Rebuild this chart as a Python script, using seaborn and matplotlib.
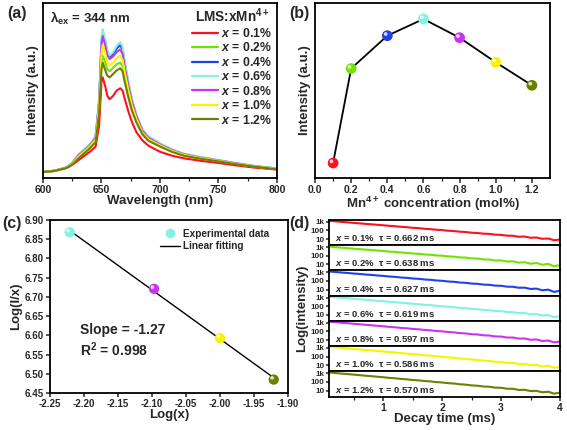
import numpy as np
import pandas as pd
import matplotlib
matplotlib.use('Agg')
import matplotlib.pyplot as plt
import matplotlib.transforms as mtransforms
from matplotlib.ticker import MultipleLocator, FixedLocator, FixedFormatter, NullLocator
import seaborn as sns

# ---------------- data ----------------
labels_x = ['0.1%', '0.2%', '0.4%', '0.6%', '0.8%', '1.0%', '1.2%']
conc = [0.1, 0.2, 0.4, 0.6, 0.8, 1.0, 1.2]
colors = ['#ff1020', '#70e400', '#2040e8', '#80f4e0', '#cc33ee', '#f8f400', '#6e8000']

# (a) emission spectra
wavelength = [600, 610, 620, 625, 630, 635, 640, 645, 648, 650, 651, 653, 655, 657, 660, 663,
              666, 668, 670, 673, 676, 680, 685, 690, 700, 710, 720, 735, 750, 765, 780, 800]
spec_01 = [3.4, 4.0, 5.7, 7.5, 10, 12.5, 15, 18, 30, 55, 57.5, 53, 47, 45, 47, 50,
           51.3, 50, 45, 38, 32, 26, 21.5, 18.5, 15, 12.8, 11.3, 9.8, 8.6, 7.2, 6, 4.8]
spec_02 = [3.4, 4.1, 5.8, 7.8, 11.5, 14.5, 17.5, 21, 39, 66, 70, 66.5, 62, 61, 63, 65,
           66, 64, 57, 48, 40, 32.5, 25.5, 21.8, 18.3, 15.3, 13, 11.2, 9.6, 8, 6.6, 5.1]
spec_04 = [3.4, 4.2, 6, 8.5, 13, 16, 19, 23.5, 44, 78, 83, 78.5, 72, 69, 71, 74,
           76, 73.5, 65, 54, 44.5, 35.5, 27.5, 23.5, 19.5, 16.3, 13.8, 11.8, 10.1, 8.4, 6.9, 5.4]
spec_06 = [3.4, 4.2, 6, 8.5, 13, 16, 19, 24, 45, 80, 85, 80, 73, 70, 72, 75.5,
           77.7, 75, 66, 55, 45, 36, 28, 24, 19.8, 16.5, 14, 12, 10.3, 8.5, 7, 5.5]
spec_08 = [3.4, 4.2, 6, 8.3, 12.5, 15.5, 18.5, 23, 43, 76, 81, 76.5, 70, 68, 69.5, 72,
           73.5, 71, 63, 52.5, 43.5, 35, 27, 23, 19.2, 16, 13.6, 11.6, 10, 8.3, 6.8, 5.3]
spec_10 = [3.4, 4.2, 5.9, 8, 12, 15, 18, 22, 41, 71, 76, 72, 66, 64.5, 66, 68.5,
           70, 67.5, 60, 50, 41.5, 33.5, 26, 22.2, 18.7, 15.6, 13.3, 11.4, 9.8, 8.1, 6.7, 5.2]
spec_12 = [3.4, 4.1, 5.7, 7.6, 11, 14, 17, 20.5, 37, 62, 66, 62, 58.5, 57.5, 59.5, 61.5,
           62.7, 61, 54.5, 46, 38.5, 31.5, 25, 21.3, 18, 15, 12.8, 11, 9.5, 7.9, 6.5, 5]
spectra = [spec_01, spec_02, spec_04, spec_06, spec_08, spec_10, spec_12]

# (b) integrated intensity vs Mn4+ concentration
intensity_b = [15, 109.5, 142.3, 159, 140.3, 115.7, 92.7]

# (c) log(I/x) vs log(x)
log_x = [-2.221, -2.097, -2.000, -1.921]
log_ix = [6.868, 6.721, 6.593, 6.485]
colors_c = ['#80f4e0', '#cc33ee', '#f8f400', '#6e8000']

# (d) decay curves
decay_t = [0.1, 0.2, 0.3, 0.4, 0.5, 0.6, 0.7, 0.8, 0.9, 1.0, 1.1, 1.2, 1.3, 1.4, 1.5, 1.6, 1.7, 1.8, 1.9, 2.0,
           2.1, 2.2, 2.3, 2.4, 2.5, 2.6, 2.7, 2.8, 2.9, 3.0, 3.1, 3.2, 3.3, 3.4, 3.5, 3.6, 3.7, 3.8, 3.9, 4.0]
decay_01 = [1250, 1110, 960, 855, 740, 660, 572, 512, 442, 398, 340, 308, 264, 238, 202, 185, 157, 142, 121, 111,
            93, 86, 72, 66, 55, 51, 43, 40, 33, 31, 25.5, 24.5, 19, 20, 14.5, 15.5, 11, 12, 7.5, 9]
decay_02 = [1050, 945, 818, 738, 638, 578, 498, 452, 388, 352, 298, 274, 230, 214, 178, 166, 140, 128, 108, 100,
            83, 78, 63, 61, 49, 47, 37, 37, 28, 29, 21.5, 23, 16, 18, 12, 14.5, 9, 11.5, 6, 8.5]
decay_04 = [1200, 1070, 925, 830, 715, 640, 552, 496, 426, 383, 326, 296, 250, 228, 192, 176, 148, 136, 114, 104,
            87, 80, 66, 61, 50, 47, 38, 36, 29, 28, 22, 21.5, 16.5, 17, 12, 13, 8.5, 10, 5.5, 7.5]
decay_06 = [1200, 1065, 920, 825, 710, 634, 546, 490, 420, 378, 321, 291, 246, 224, 189, 172, 145, 133, 111, 101,
            85, 78, 64, 59, 49, 45, 37, 35, 28, 27, 21, 21, 16, 16.5, 11.5, 12.5, 8.5, 9.5, 5.5, 7]
decay_08 = [1300, 1150, 990, 885, 760, 675, 580, 518, 443, 396, 336, 303, 255, 232, 195, 177, 149, 135, 113, 103,
            86, 78, 64, 59, 48, 45, 36, 34, 27, 26, 20, 20, 15, 15.5, 11, 12, 8, 9, 5.5, 7]
decay_10 = [1350, 1190, 1020, 910, 780, 690, 590, 525, 448, 400, 338, 304, 256, 232, 194, 176, 147, 134, 111, 101,
            84, 76, 62, 57, 47, 43, 35, 33, 26, 25, 19.5, 19.5, 14.5, 15, 10.5, 11.5, 7.5, 9, 5.5, 6.5]
decay_12 = [1200, 1055, 905, 805, 690, 610, 520, 462, 394, 350, 296, 266, 223, 202, 169, 153, 128, 116, 96, 87,
            73, 66, 54, 49, 40, 37, 30, 28, 22, 21.5, 16.5, 16.5, 12, 12.5, 9, 9.5, 6.5, 7.5, 4.5, 6]
decays = [decay_01, decay_02, decay_04, decay_06, decay_08, decay_10, decay_12]
tau_labels = ['0.662', '0.638', '0.627', '0.619', '0.597', '0.586', '0.570']

# ---------------- style ----------------
sns.set_theme(style='ticks')
plt.rcParams['font.family'] = ['Liberation Sans', 'DejaVu Sans']
plt.rcParams['font.weight'] = 'bold'
plt.rcParams['axes.labelweight'] = 'bold'
plt.rcParams['mathtext.fontset'] = 'custom'
plt.rcParams['mathtext.rm'] = 'Liberation Sans:bold'
plt.rcParams['mathtext.bf'] = 'Liberation Sans:bold'
plt.rcParams['mathtext.it'] = 'Liberation Sans:italic:bold'
plt.rcParams['axes.linewidth'] = 1.3
plt.rcParams['xtick.major.width'] = 1.1
plt.rcParams['ytick.major.width'] = 1.1
plt.rcParams['xtick.minor.width'] = 0.9
plt.rcParams['ytick.minor.width'] = 0.9
plt.rcParams['xtick.direction'] = 'out'
plt.rcParams['ytick.direction'] = 'out'

fig = plt.figure(figsize=(5.67, 4.30), dpi=100)

def box(ax):
    for s in ax.spines.values():
        s.set_visible(True)
        s.set_color('black')
        s.set_linewidth(1.3)


def spheres(ax, xs, ys, cols, size):
    ax.scatter(xs, ys, s=size, c=cols, edgecolors='none', zorder=3)
    hl = mtransforms.offset_copy(ax.transData, fig=fig, x=-1.2, y=1.2, units='points')
    ax.scatter(xs, ys, s=size * 0.12, c='white', alpha=0.8, edgecolors='none', zorder=4, transform=hl)


# ---------------- (a) ----------------
ax_a = fig.add_axes([0.0758, 0.586, 0.4127, 0.407])
rows = []
for lab, sp in zip(labels_x, spectra):
    for w, v in zip(wavelength, sp):
        rows.append({'wl': w, 'I': v, 'x': lab})
df_a = pd.DataFrame(rows)
sns.lineplot(data=df_a, x='wl', y='I', hue='x', palette=colors, lw=1.5, sort=False,
             legend=False, ax=ax_a)
ax_a.set_xlim(600, 800)
ax_a.set_ylim(0, 100)
ax_a.xaxis.set_major_locator(MultipleLocator(50))
ax_a.xaxis.set_minor_locator(MultipleLocator(25))
ax_a.set_yticks([])
ax_a.tick_params(axis='x', which='major', labelsize=7.5, length=3.5, pad=1.5)
ax_a.tick_params(axis='x', which='minor', length=2)
ax_a.set_xlabel('Wavelength (nm)', fontsize=9.5, labelpad=0)
ax_a.set_ylabel('Intensity (a.u.)', fontsize=9.5, labelpad=3)
handles = [plt.Line2D([], [], color=c, lw=1.6) for c in colors]
leg = ax_a.legend(handles, ['$x$ = ' + l for l in labels_x], title='LMS:xMn$^{4+}$',
                  loc='upper right', bbox_to_anchor=(1.01, 1.02), frameon=False,
                  fontsize=8.8, title_fontsize=9.8, handlelength=2.1, handletextpad=0.25,
                  labelspacing=0.12, borderaxespad=0.2)
leg.get_title().set_fontweight('bold')
ax_a.text(0.03, 0.96, '\u03bb$_{\\mathrm{ex}}$ = 344 nm', transform=ax_a.transAxes,
          fontsize=9.5, va='top', ha='left')
box(ax_a)
fig.text(0.012, 0.985, '(a)', fontsize=11.5, fontweight='bold', va='top')

# ---------------- (b) ----------------
ax_b = fig.add_axes([0.5556, 0.586, 0.4144, 0.407])
df_b = pd.DataFrame({'conc': conc, 'I': intensity_b})
sns.lineplot(data=df_b, x='conc', y='I', color='black', lw=1.3, sort=False, ax=ax_b)
spheres(ax_b, conc, intensity_b, colors, 60)
ax_b.set_xlim(0, 1.3)
ax_b.set_ylim(0, 175)
ax_b.xaxis.set_major_locator(FixedLocator([0, 0.2, 0.4, 0.6, 0.8, 1.0, 1.2]))
ax_b.xaxis.set_minor_locator(FixedLocator([0.1, 0.3, 0.5, 0.7, 0.9, 1.1]))
ax_b.set_yticks([])
ax_b.tick_params(axis='x', which='major', labelsize=7.5, length=3.5, pad=1.5)
ax_b.tick_params(axis='x', which='minor', length=2)
ax_b.set_xlabel('Mn$^{4+}$ concentration (mol%)', fontsize=9.5, labelpad=0)
ax_b.set_ylabel('Intensity (a.u.)', fontsize=9.5, labelpad=3)
box(ax_b)
fig.text(0.511, 0.985, '(b)', fontsize=11.5, fontweight='bold', va='top')

# ---------------- (c) ----------------
ax_c = fig.add_axes([0.0882, 0.086, 0.4198, 0.4024])
slope, icpt = np.polyfit(log_x, log_ix, 1)
fit_x = [log_x[0], log_x[-1]]
fit_y = [slope * v + icpt for v in fit_x]
ax_c.plot(fit_x, fit_y, color='black', lw=1.0, zorder=2)
spheres(ax_c, log_x, log_ix, colors_c, 55)
ax_c.set_xlim(-2.25, -1.90)
ax_c.set_ylim(6.45, 6.90)
ax_c.xaxis.set_major_locator(MultipleLocator(0.05))
ax_c.yaxis.set_major_locator(MultipleLocator(0.05))
ax_c.xaxis.set_major_formatter(matplotlib.ticker.FormatStrFormatter('%.2f'))
ax_c.yaxis.set_major_formatter(matplotlib.ticker.FormatStrFormatter('%.2f'))
ax_c.tick_params(axis='both', which='major', labelsize=7, length=3, pad=1.5)
ax_c.set_xlabel('Log(x)', fontsize=9.5, labelpad=0)
ax_c.set_ylabel('Log(I/x)', fontsize=9.5, labelpad=2)
h1 = plt.Line2D([], [], marker='o', color='none', markerfacecolor=colors_c[0],
                markeredgecolor='none', markersize=7)
h2 = plt.Line2D([], [], color='black', lw=1.0)
ax_c.legend([h1, h2], ['Experimental data', 'Linear fitting'], loc='upper right',
            bbox_to_anchor=(0.96, 1.0), frameon=False, fontsize=7.2, handlelength=2.0,
            handletextpad=0.3, labelspacing=0.25)
ax_c.text(-2.206, 6.614, 'Slope = -1.27', fontsize=10, va='center', ha='left')
ax_c.text(-2.206, 6.562, 'R$^2$ = 0.998', fontsize=10, va='center', ha='left')
box(ax_c)
fig.text(0.004, 0.497, '(c)', fontsize=11.5, fontweight='bold', va='top')

# ---------------- (d) ----------------
d_left, d_w = 0.580, 0.4077
d_bottom, d_top = 0.0774, 0.4884
n = len(decays)
h = (d_top - d_bottom) / n
for i, (dec, c, lab, tau) in enumerate(zip(decays, colors, labels_x, tau_labels)):
    ax = fig.add_axes([d_left, d_top - (i + 1) * h, d_w, h])
    df_d = pd.DataFrame({'t': decay_t, 'I': dec})
    sns.lineplot(data=df_d, x='t', y='I', color=c, lw=1.5, sort=False, ax=ax)
    ax.set_yscale('log')
    ax.set_xlim(0.08, 4.0)
    ax.set_ylim(2, 1600)
    ax.yaxis.set_major_locator(FixedLocator([10, 100, 1000]))
    ax.yaxis.set_major_formatter(FixedFormatter(['10', '100', '1k']))
    ax.yaxis.set_minor_locator(NullLocator())
    ax.xaxis.set_major_locator(FixedLocator([1, 2, 3, 4]))
    ax.xaxis.set_minor_locator(FixedLocator([0.5, 1.5, 2.5, 3.5]))
    ax.tick_params(axis='y', labelsize=5.8, length=2, pad=1)
    ax.set_ylabel('')
    ax.set_xlabel('')
    ax.text(0.025, 0.08, '$x$ = ' + lab + '  \u03c4 = ' + tau + ' ms', transform=ax.transAxes,
            fontsize=6.8, va='bottom', ha='left')
    box(ax)
    if i < n - 1:
        ax.tick_params(axis='x', which='both', bottom=False, labelbottom=False)
    else:
        ax.tick_params(axis='x', which='major', labelsize=7.5, length=3, pad=1.5)
        ax.tick_params(axis='x', which='minor', length=2)
        ax.set_xlabel('Decay time (ms)', fontsize=9.5, labelpad=0)
fig.text(0.533, (d_top + d_bottom) / 2, 'Log(intensity)', rotation=90, fontsize=9.5,
         fontweight='bold', va='center', ha='center')
fig.text(0.511, 0.497, '(d)', fontsize=11.5, fontweight='bold', va='top')

fig.savefig('out.png', dpi=100)
